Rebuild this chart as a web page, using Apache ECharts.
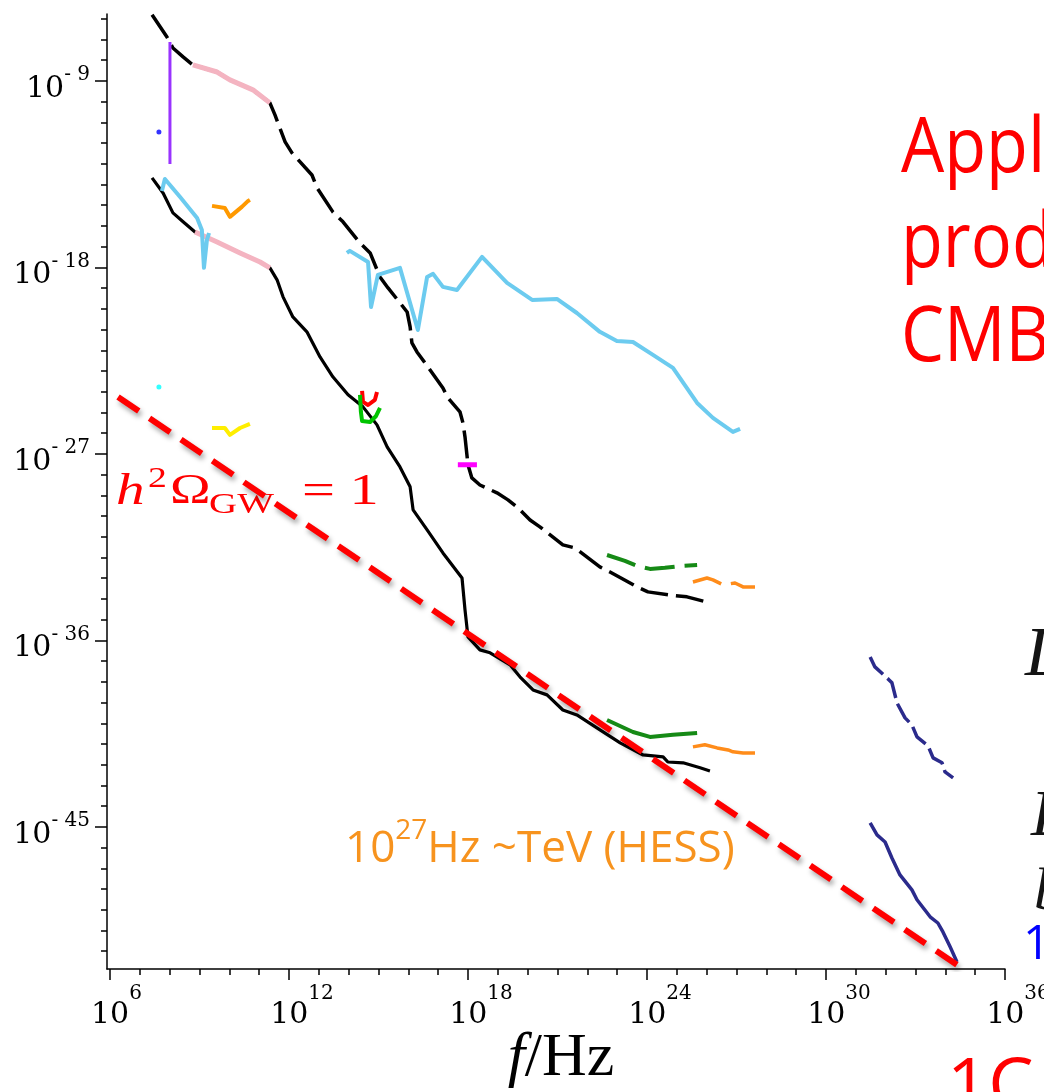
<!DOCTYPE html>
<html lang="en">
<head>
<meta charset="UTF-8">
<title>GW strain limits</title>
<script src="https://cdn.jsdelivr.net/npm/echarts@6.0.0/dist/echarts.min.js"></script>
<style>
  html, body { margin: 0; padding: 0; background: #fff; }
  #chart { width: 1044px; height: 1092px; }
</style>
</head>
<body>
<div id="chart"></div>
<script>
// all values are log10: [log10(f/Hz), log10(h)]
var xMajor = [6, 12, 18, 24, 30, 36];
var xMinor = [6, 7, 8, 9, 10, 11, 12, 13, 14, 15, 16, 17, 18, 19, 20, 21, 22, 23, 24, 25, 26, 27, 28, 29, 30, 31, 32, 33, 34, 35, 36];
var yMajor = [-9, -18, -27, -36, -45];
var yMinor = [-6, -7, -8, -9, -10, -11, -12, -13, -14, -15, -16, -17, -18, -19, -20, -21, -22, -23, -24, -25, -26,
              -27, -28, -29, -30, -31, -32, -33, -34, -35, -36, -37, -38, -39, -40, -41, -42, -43, -44, -45, -46,
              -47, -48, -49, -50, -51];

var upperBlack = [[7.41,-5.81],[7.91,-6.88],[8.11,-7.41],[8.45,-7.84],[8.78,-8.23],[9.59,-8.57],[10.02,-8.95],
  [10.79,-9.43],[11.36,-10.06],[11.53,-10.64],[11.87,-11.94],[12.10,-12.47],[12.77,-13.54],[12.94,-14.16],
  [13.47,-15.32],[13.81,-15.80],[14.38,-16.82],[14.72,-17.30],[15.05,-18.46],[15.32,-18.99],[15.72,-19.71],
  [15.96,-20.15],[16.06,-20.87],[16.12,-21.64],[16.29,-22.08],[16.56,-22.61],[17.16,-23.82],[17.33,-24.30],
  [17.73,-24.97],[17.83,-25.50],[17.90,-26.18],[18.00,-27.53],[18.13,-28.16],[18.40,-28.50],[18.97,-28.88],
  [19.34,-29.22],[19.68,-29.61],[20.08,-30.19],[20.41,-30.52],[21.18,-31.39],[21.59,-31.54],[22.42,-32.45],
  [22.76,-32.70],[23.67,-33.42],[24.03,-33.66],[24.77,-33.81],[25.34,-33.90],[26.11,-34.19]];
var lowerBlack = [[7.41,-13.68],[7.78,-14.41],[8.11,-15.37],[8.45,-15.80],[8.85,-16.29],[9.59,-16.77],[10.36,-17.30],
  [11.03,-17.74],[11.36,-18.02],[11.60,-18.60],[11.80,-19.42],[12.13,-20.39],[12.60,-21.11],[13.04,-22.32],
  [13.47,-23.28],[13.98,-24.15],[14.48,-24.73],[14.95,-25.60],[15.29,-26.66],[15.72,-27.63],[16.06,-28.59],
  [16.16,-29.70],[16.63,-30.67],[17.16,-31.78],[17.80,-32.99],[17.90,-34.53],[18.00,-35.83],[18.40,-36.46],
  [18.74,-36.60],[19.41,-37.18],[19.74,-37.76],[20.18,-38.39],[20.65,-38.63],[21.18,-39.36],[21.65,-39.60],
  [22.32,-40.22],[23.10,-40.95],[23.87,-41.53],[24.54,-41.62],[24.70,-41.87],[25.21,-41.91],[25.78,-42.15],[26.11,-42.30]];
var pinkUpper = [[8.78,-8.23],[9.59,-8.57],[10.02,-8.95],[10.79,-9.43],[11.36,-10.06]];
var pinkLower = [[8.85,-16.29],[9.59,-16.77],[10.36,-17.30],[11.03,-17.74],[11.36,-18.02]];
var purpleBar = [[8.01,-7.12],[8.01,-13.01]];
var magentaBar = [[17.66,-27.53],[18.30,-27.53]];
var blueDot = [[7.64,-11.46]];
var cyanDot = [[7.64,-23.77]];
var orangeWedge = [[9.42,-15.03],[9.85,-15.13],[10.02,-15.56],[10.42,-15.08],[10.63,-14.79],[10.69,-14.74]];
var yellowWedge = [[9.42,-25.75],[9.85,-25.75],[10.02,-26.08],[10.36,-25.75],[10.69,-25.55]];
var redCup = [[14.45,-23.96],[14.48,-24.49],[14.65,-24.64],[14.88,-24.39],[14.95,-24.01]];
var greenCup = [[14.38,-24.15],[14.41,-24.97],[14.45,-25.41],[14.72,-25.46],[14.92,-25.17],[15.05,-24.78]];
var skyLeft = [[7.74,-14.31],[7.84,-13.73],[8.35,-14.60],[8.92,-15.61],[9.08,-16.19],[9.15,-18.02],[9.25,-16.67],[9.32,-16.34]];
var skyRight = [[13.94,-17.30],[14.04,-17.20],[14.65,-17.74],[14.75,-19.91],[14.98,-18.36],[15.72,-18.02],[16.32,-21.02],
  [16.63,-18.46],[16.83,-18.31],[17.16,-18.94],[17.63,-19.09],[18.47,-17.49],[19.31,-18.75],[20.15,-19.57],
  [20.98,-19.52],[21.65,-20.20],[22.42,-21.11],[22.99,-21.55],[23.53,-21.60],[24.20,-22.22],[24.87,-22.85],
  [25.68,-24.54],[26.21,-25.26],[26.88,-25.94],[27.12,-25.79]];
var greenUpper = [[22.66,-31.88],[23.26,-32.16],[23.67,-32.41],[24.10,-32.55],[24.60,-32.50],[25.11,-32.41],[25.68,-32.36]];
var greenLower = [[22.66,-39.84],[23.53,-40.42],[24.10,-40.66],[24.87,-40.56],[25.68,-40.47]];
var orangeUpper = [[25.54,-33.18],[26.01,-32.99],[26.21,-33.08],[26.55,-33.32],[26.95,-33.23],[27.22,-33.42],[27.62,-33.42]];
var orangeLower = [[25.54,-41.14],[25.94,-41.04],[26.35,-41.19],[26.72,-41.29],[26.88,-41.38],[27.22,-41.43],[27.62,-41.43]];
var navyUpper = [[31.48,-36.80],[31.64,-37.28],[32.08,-37.86],[32.21,-38.05],[32.38,-39.02],[32.65,-39.74],[32.88,-40.08],
  [33.05,-40.66],[33.42,-41.09],[33.59,-41.67],[33.89,-41.91],[33.99,-42.35],[34.26,-42.64]];
var navyLower = [[31.48,-44.81],[31.71,-45.39],[31.98,-45.73],[32.21,-46.50],[32.48,-47.32],[32.88,-48.04],[33.05,-48.52],
  [33.49,-49.34],[33.75,-49.64],[33.92,-50.07],[34.16,-50.79],[34.39,-51.52]];
var omegaOne = [[6.27,-24.25],[34.39,-51.66]];

var serif = '"Liberation Serif", "Times New Roman", serif';
var tickFont = '"DejaVu Serif", serif';
var sans = '"Open Sans", "Noto Sans", sans-serif';

function line(data, color, width, dash, z) {
    return {
        type: 'line', data: data, symbol: 'none', z: z || 2, animation: false,
        lineStyle: { color: color, width: width, type: dash || 'solid', cap: 'butt', join: 'round' }
    };
}

var chart = echarts.init(document.getElementById('chart'));

var option = {
    backgroundColor: '#fff',
    animation: false,
    grid: { left: 107, right: 39, top: 14, bottom: 123, outerBoundsMode: 'none' },
    xAxis: [
        {
            type: 'value', min: 5.9, max: 36, position: 'bottom',
            axisLine: { lineStyle: { color: '#000', width: 1.5 } },
            axisTick: { customValues: xMajor, length: 11, lineStyle: { color: '#000', width: 1.5 } },
            axisLabel: {
                customValues: xMajor, margin: 15,
                formatter: function (v) {
                    var p = String(v);
                    return '{' + (p.length > 1 ? 'sp2' : 'sp1') + '| }{b|10}{s|' + p + '}';
                },
                rich: {
                    sp1: { width: 13, lineHeight: 46 },
                    sp2: { width: 26, lineHeight: 46 },
                    b: { fontFamily: tickFont, fontSize: 30, lineHeight: 30, verticalAlign: 'bottom', color: '#000' },
                    s: { fontFamily: tickFont, fontSize: 20, lineHeight: 20, verticalAlign: 'top', color: '#000' }
                }
            },
            splitLine: { show: false }
        },
        {
            type: 'value', min: 5.9, max: 36, position: 'bottom',
            axisLine: { show: false },
            axisTick: { customValues: xMinor, length: 6, lineStyle: { color: '#000', width: 1.5 } },
            axisLabel: { show: false },
            splitLine: { show: false }
        }
    ],
    yAxis: [
        {
            type: 'value', min: -51.86, max: -5.77, position: 'left',
            axisLine: { lineStyle: { color: '#000', width: 1.5 } },
            axisTick: { customValues: yMajor, length: 12, lineStyle: { color: '#000', width: 1.5 } },
            axisLabel: {
                customValues: yMajor, margin: 17, padding: [7, 0, 0, 0],
                formatter: function (v) {
                    return '{h| }{b|10}{s|- ' + (-v) + '}';
                },
                rich: {
                    h: { width: 1, lineHeight: 39 },
                    b: { fontFamily: tickFont, fontSize: 30, lineHeight: 30, verticalAlign: 'bottom', color: '#000' },
                    s: { fontFamily: tickFont, fontSize: 20, lineHeight: 20, verticalAlign: 'top', color: '#000' }
                }
            },
            splitLine: { show: false }
        },
        {
            type: 'value', min: -51.86, max: -5.77, position: 'left',
            axisLine: { show: false },
            axisTick: { customValues: yMinor, length: 6, lineStyle: { color: '#000', width: 1.5 } },
            axisLabel: { show: false },
            splitLine: { show: false }
        }
    ],
    series: [
        line(upperBlack, '#000', 3.5, [28, 8]),
        line(lowerBlack, '#000', 3.2),
        line(pinkUpper, '#f4b4c1', 5, null, 3),
        line(pinkLower, '#f4b4c1', 5, null, 3),
        line(purpleBar, '#9933ff', 3, null, 3),
        line(magentaBar, '#ff00ff', 5, null, 3),
        line(orangeWedge, '#ff9900', 4, null, 3),
        line(yellowWedge, '#ffee00', 4, null, 3),
        line(redCup, '#ff0000', 4, null, 3),
        line(greenCup, '#00c400', 4, null, 3),
        line(skyLeft, '#6ccbef', 4, null, 3),
        line(skyRight, '#6ccbef', 4, null, 3),
        line(greenUpper, '#168a16', 4, [30, 10], 3),
        line(greenLower, '#168a16', 4, null, 3),
        line(orangeUpper, '#ff8c1a', 3.5, [30, 10], 3),
        line(orangeLower, '#ff8c1a', 3.5, null, 3),
        line(navyUpper, '#2b2b8c', 3.5, [22, 6], 3),
        line(navyLower, '#2b2b8c', 3.5, null, 3),
        { type: 'scatter', data: blueDot, symbolSize: 5, itemStyle: { color: '#0000ff' }, z: 3, animation: false },
        { type: 'scatter', data: cyanDot, symbolSize: 5, itemStyle: { color: '#00ffff' }, z: 3, animation: false },
        {
            type: 'line', data: omegaOne, symbol: 'none', z: 6, animation: false,
            lineStyle: {
                color: '#ff0000', width: 6, type: [25, 13], cap: 'butt',
                shadowColor: 'rgba(0,0,0,0.35)', shadowBlur: 5, shadowOffsetX: 2, shadowOffsetY: 4
            }
        }
    ],
    graphic: [
        { type: 'text', x: 901, y: 150, scaleX: 0.9, style: { text: 'Appl', fontFamily: sans, fontSize: 76, fill: '#ff0000', verticalAlign: 'middle' } },
        { type: 'text', x: 901, y: 245, scaleX: 0.9, style: { text: 'prod', fontFamily: sans, fontSize: 76, fill: '#ff0000', verticalAlign: 'middle' } },
        { type: 'text', x: 901, y: 339, scaleX: 0.9, style: { text: 'CMB', fontFamily: sans, fontSize: 76, fill: '#ff0000', verticalAlign: 'middle' } },
        // h^2 Omega_GW = 1
        { type: 'text', x: 116, y: 492, scaleX: 1.3, style: { text: 'h', fontFamily: serif, fontStyle: 'italic', fontSize: 44, fill: '#ff0000', verticalAlign: 'middle' } },
        { type: 'text', x: 148, y: 479, scaleX: 1.3, style: { text: '2', fontFamily: serif, fontSize: 29, fill: '#ff0000', verticalAlign: 'middle' } },
        { type: 'text', x: 170, y: 492, scaleX: 1.3, style: { text: 'Ω', fontFamily: serif, fontSize: 42, fill: '#ff0000', verticalAlign: 'middle' } },
        { type: 'text', x: 209, y: 505, scaleX: 1.3, style: { text: 'GW', fontFamily: serif, fontSize: 30, fill: '#ff0000', verticalAlign: 'middle' } },
        { type: 'text', x: 302, y: 492, scaleX: 1.3, style: { text: '= 1', fontFamily: serif, fontSize: 45, fill: '#ff0000', verticalAlign: 'middle' } },
        // HESS note
        {
            type: 'text', x: 345, y: 817,
            style: {
                text: '{a|10}{s|27}{a|Hz ~TeV (HESS)}{h| }', fill: '#f7931e', verticalAlign: 'top',
                rich: {
                    a: { fontFamily: sans, fontSize: 44, lineHeight: 44, verticalAlign: 'bottom', fill: '#f7931e' },
                    s: { fontFamily: sans, fontSize: 28, lineHeight: 28, verticalAlign: 'top', fill: '#f7931e' },
                    h: { width: 1, lineHeight: 54 }
                }
            }
        },
        // axis title
        {
            type: 'text', x: 561, y: 1059,
            style: {
                text: '{i|f}{n|/Hz}', align: 'center', verticalAlign: 'middle',
                rich: {
                    i: { fontFamily: serif, fontStyle: 'italic', fontSize: 62, fill: '#000' },
                    n: { fontFamily: serif, fontSize: 62, fill: '#000' }
                }
            }
        },
        // slide text cut at the right edge
        { type: 'text', x: 1025, y: 657, style: { text: 'L', fontFamily: serif, fontStyle: 'italic', fontSize: 70, fill: '#141414', verticalAlign: 'middle' } },
        { type: 'text', x: 1031, y: 818, style: { text: 'L', fontFamily: serif, fontStyle: 'italic', fontSize: 66, fill: '#141414', verticalAlign: 'middle' } },
        { type: 'text', x: 1034, y: 893, style: { text: 'b', fontFamily: serif, fontStyle: 'italic', fontSize: 60, fill: '#141414', verticalAlign: 'middle' } },
        { type: 'text', x: 1023, y: 945, style: { text: '1', fontFamily: sans, fontSize: 48, fill: '#0000ff', verticalAlign: 'middle' } },
        { type: 'text', x: 947, y: 1088, style: { text: '1C', fontFamily: sans, fontSize: 72, fill: '#ff0000', verticalAlign: 'middle' } }
    ]
};

chart.setOption(option);
</script>
</body>
</html>
